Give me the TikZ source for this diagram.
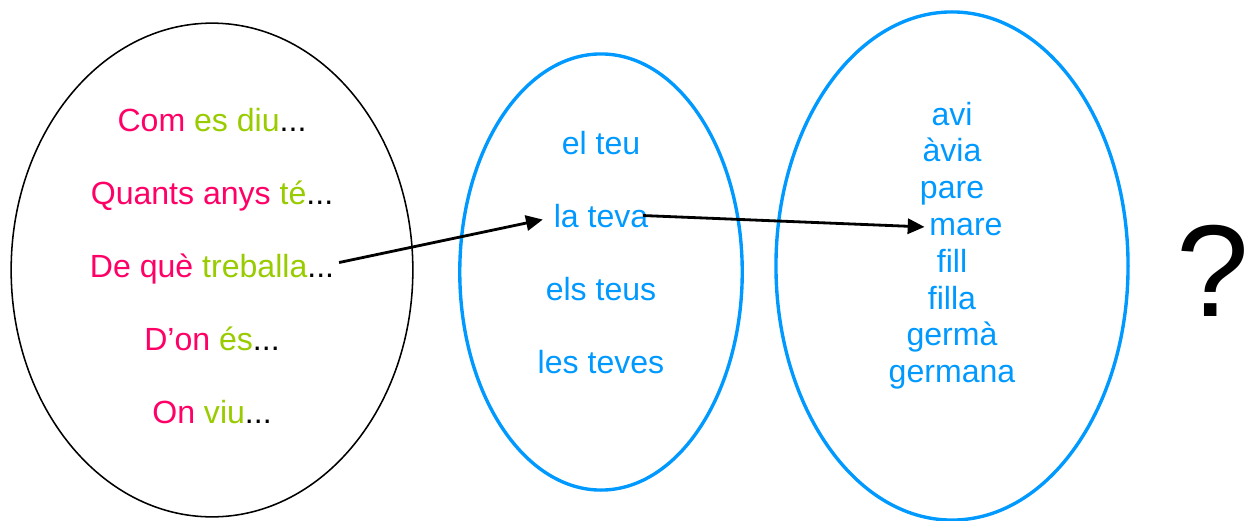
\documentclass[tikz,border=0pt]{standalone}
\usepackage{fontspec}
\setmainfont{Liberation Sans}
\usepackage{xcolor}
\usetikzlibrary{arrows.meta, positioning, calc}
\definecolor{rosa}{HTML}{FF0066}
\definecolor{verd}{HTML}{99CC00}
\definecolor{blau}{HTML}{0099FF}
\newcommand{\rs}[1]{\textcolor{rosa}{#1}}
\newcommand{\vd}[1]{\textcolor{verd}{#1}}
\begin{document}
\begin{tikzpicture}[x=0.025cm, y=-0.025cm,
  txt/.style={anchor=base, font=\fontsize{22.8pt}{27pt}\selectfont},
  blautxt/.style={txt, text=blau},
  fletxa/.style={-{Triangle[length=0.42cm, width=0.38cm]}, line width=2pt}]
\useasboundingbox (0,0) rectangle (1247,520);
% ellipses
\draw[line width=1.1pt] (212,270) ellipse [x radius=5.02cm, y radius=6.17cm];
\draw[blau, line width=2.4pt] (601,272) ellipse [x radius=3.53cm, y radius=5.45cm];
\draw[blau, line width=2.4pt] (952,266) ellipse [x radius=4.4cm, y radius=6.35cm];
% questions
\node[txt] (q1) at (212,131.5) {\rs{Com} \vd{es diu}...};
\node[txt] (q2) at (212,204) {\rs{Quants anys} \vd{té}...};
\node[txt] (q3) at (212,277) {\rs{De què} \vd{treballa}...};
\node[txt] (q4) at (212,350) {\rs{D’on} \vd{és}...};
\node[txt] (q5) at (212,423) {\rs{On} \vd{viu}...};
% possessives
\node[blautxt] (pos1) at (601,154) {el teu};
\node[blautxt] (pos2) at (601,227) {la teva};
\node[blautxt] (pos3) at (601,300) {els teus};
\node[blautxt] (pos4) at (601,373) {les teves};
% family
\node[blautxt] (fam1) at (952,125) {avi};
\node[blautxt] (fam2) at (952,161.8) {àvia};
\node[blautxt] (fam3) at (952,198.6) {pare};
\node[blautxt] (fam4) at (966,235.4) {mare};
\node[blautxt] (fam5) at (952,272.2) {fill};
\node[blautxt] (fam6) at (952,309) {filla};
\node[blautxt] (fam7) at (952,345.8) {germà};
\node[blautxt] (fam8) at (952,382.6) {germana};
\node[anchor=base, font=\fontsize{93pt}{100pt}\selectfont] (quest) at (1213,316) {?};
% arrows
\draw[fletxa] ([yshift=0.15cm]q3.east) -- ([xshift=-0.15cm, yshift=-0.1cm]pos2.west);
\draw[fletxa] ([xshift=-0.25cm]pos2.east) -- (fam4.west);
\end{tikzpicture}
\end{document}
